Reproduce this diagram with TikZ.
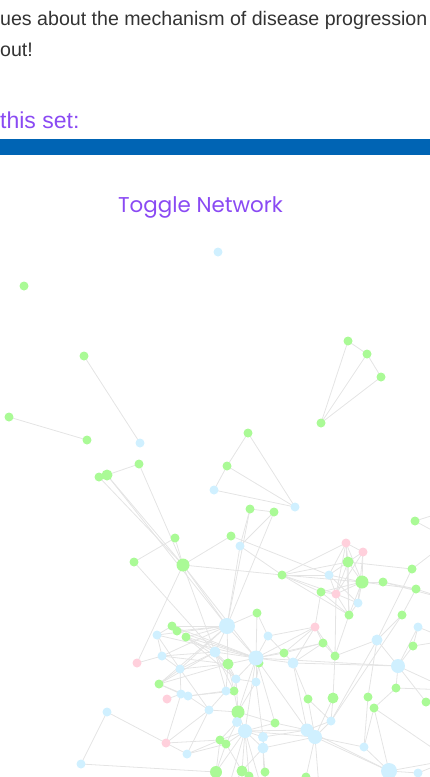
\documentclass[tikz,border=0pt]{standalone}
\usepackage{fontspec}
\setmainfont{Liberation Sans}
\newfontfamily\togglefont{Poppins}
\usepackage{xcolor}
\usepackage{tikz}
\usetikzlibrary{positioning}

\definecolor{textgray}{RGB}{51,51,51}
\definecolor{headpurple}{RGB}{138,74,243}
\definecolor{barblue}{RGB}{0,100,180}
\definecolor{nodegreen}{RGB}{170,250,150}
\definecolor{nodeblue}{RGB}{208,240,255}
\definecolor{nodepink}{RGB}{255,208,220}
\definecolor{edgegray}{RGB}{228,228,228}

% node lists: name/x/y/radius
\def\greennodes{g1/24/286/4.5, g2/84/356/4.5, g3/348/341/4.5, g4/367/354/4.5,
  g5/381/377/4.5, g6/321/423/4.5, g7/9/417/4.5, g8/87/440/4.5, g9/139/464/4.5,
  g10/107/475/5.5, g11/99/477/4.5, g12/248/433/4.5, g13/227/466/4.5,
  g14/250/509/4.5, g15/274/512/4.5, g16/415/521/4.5, g17/175/538/4.5,
  g18/231/536/4.5, g19/134/562/4.5, g20/183/565/6.5, g21/282/575/4.5,
  g22/348/562/5.5, g23/362/582/6.5, g24/383/582/4.5, g25/412/569/4.5,
  g26/416/589/4.5, g27/321/592/4.5, g28/349/615/4.5, g29/402/615/4.5,
  g30/257/613/4.5, g31/172/626/4.5, g32/177/631/4.5, g33/186/637/4.5,
  g34/413/646/4.5, g35/323/643/4.5, g36/284/653/4.5, g37/335/656/4.5,
  g38/259/663/4.5, g39/228/664/5.5, g40/159/684/4.5, g41/234/691/4.5,
  g42/396/688/4.5, g43/426/702/4.5, g44/308/699/4.5, g45/333/698/5.5,
  g46/368/697/4.5, g47/374/708/4.5, g48/238/712/6.5, g49/275/723/4.5,
  g50/220/740/4.5, g51/226/744/4.5, g52/216/772/6, g53/242/771/5.5,
  g54/249/776/4.5, g55/265/772/4.5, g56/306/777/4.5}
\def\bluenodes{b1/218/252/4.5, b2/140/443/4.5, b3/214/490/4.5, b4/295/507/4.5,
  b5/240/546/4.5, b6/329/575/4.5, b7/358/603/4.5, b8/227/626/8,
  b9/157/635/4.5, b10/268/636/4.5, b11/377/640/5.5, b12/418/627/4.5,
  b13/215/652/5.5, b14/162/656/4.5, b15/256/658/7.5, b16/293/663/5.5,
  b17/398/666/7, b18/180/669/4.5, b19/236/679/4.5, b20/256/682/4.5,
  b21/181/694/4.5, b22/188/696/4.5, b23/226/691/4.5, b24/209/710/4.5,
  b25/107/712/4.5, b26/237/722/5, b27/245/731/7, b28/331/721/4.5,
  b29/307/730/6.5, b30/315/737/7, b31/263/737/5, b32/263/748/5.5,
  b33/364/747/4.5, b34/187/754/4.5, b35/81/764/4.5, b36/389/771/8,
  b37/418/773/4.5}
\def\pinknodes{p1/346/543/4.5, p2/363/552/4.5, p3/336/594/4.5, p4/315/627/4.5,
  p5/137/663/4.5, p6/167/699/4.5, p7/166/743/4.5}

\begin{document}
\begin{tikzpicture}[x=1pt, y=-1pt, every node/.style={inner sep=0pt},
  edge/.style={edgegray, line width=0.8pt}]
\useasboundingbox (0,0) rectangle (430,777);
\clip (0,0) rectangle (430,777);
% page text above the network
\node[anchor=base west, font=\fontsize{19.6}{31}\selectfont, text=textgray] (introA) at (0,25) {ues about the mechanism of disease progression};
\node[anchor=base west, font=\fontsize{19.6}{31}\selectfont, text=textgray] (introB) at (0,56) {out!};
\node[anchor=base west, font=\fontsize{23}{26}\selectfont, text=headpurple] (heading) at (0,128) {this set:};
\fill[barblue] (0,139) rectangle (430,155);
\node[font=\togglefont\fontsize{21.4}{26}\selectfont, text=headpurple] (toggle) at (200.5,207.5) {Toggle Network};
% node positions
\foreach \n/\x/\y/\r in \greennodes {\coordinate (\n) at (\x,\y);}
\foreach \n/\x/\y/\r in \bluenodes {\coordinate (\n) at (\x,\y);}
\foreach \n/\x/\y/\r in \pinknodes {\coordinate (\n) at (\x,\y);}
% links leaving the visible area
\coordinate (R1) at (450,510);
\coordinate (R2) at (450,540);
\coordinate (R3) at (450,600);
\coordinate (R4) at (450,640);
\coordinate (R5) at (450,690);
\coordinate (R6) at (450,760);
\coordinate (D1) at (225,800);
\coordinate (D2) at (265,800);
\coordinate (D3) at (320,800);
\coordinate (D4) at (395,800);
% links
\foreach \a/\b in {g2/b2, g7/g8, g3/g4, g3/g6, g4/g5, g4/g6, g5/g6,
  g9/g10, g9/g20, g10/g20, g11/g20, g10/b8,
  g12/g13, g12/b4, g13/b3, g13/b4, b3/b4,
  g14/g15, g14/b8, g14/b5, g15/b5, g15/b8, b5/b8,
  g16/R1, g16/R2,
  g17/g19, g17/g20, g18/g20, g18/b6, b5/g21,
  g19/b13, g20/p5, g20/b8, g20/b13, g20/g21, g20/b15,
  g21/p1, g21/b6, g21/g23, g21/g27, g21/p3, g21/g22, g21/g28,
  p1/p2, p1/g22, p1/b6, p1/g23, p1/p3, p1/g28, p2/g22, p2/g23, p2/b7, p2/p3,
  g22/b6, g22/g23, g22/p3, g22/g28, g22/g25, b6/p3, b6/g23, b6/b7,
  g23/g24, g23/p3, g23/b7, g23/g28, g23/g26, g23/g27,
  g27/p3, g27/g28, p3/b7, p3/g28, b7/g28, g24/g26, g24/R3,
  g25/b11, g25/R2, g26/g29, g26/R3, g29/b11, g29/b28,
  b12/g34, b12/b17, b12/R4,
  b11/b17, b11/g46, b11/b28, b11/g37,
  g34/b17, g34/R4, b17/g42, b17/g43, b17/b16, b17/b15, b17/R5, g43/R5,
  g28/g37, p3/g37,
  p4/g36, p4/b10, p4/g35, p4/g37, p4/b16, p4/b15, p4/g27,
  b10/g30, b10/g36, b10/b15, g30/b8, g30/b15,
  g36/b15, g36/b16, g36/g35, g35/b15, g35/g37, g35/b16,
  b16/g44, b16/b15, b16/b29,
  g44/b28, g44/b30, g45/b28, g45/g37, g45/b30,
  g46/b33, g47/b33, g47/b36, g47/R6, g47/g42,
  b28/b29, b28/b30, b29/b36, b30/b36, b30/b33, b33/b36, b36/b37, b36/R6,
  b36/D4, b37/R6, g42/R5,
  b15/b29, b15/b27, b15/b8, b15/b13, b15/g39, b15/g38, b15/b20, b15/b19,
  b15/g48, b15/b9,
  b8/g31, b8/g32, b8/g33, b8/b9, b8/b13, b8/g39, b8/b18, b8/g40, b8/b14,
  g31/g32, g31/b9, g31/b15, g32/b15, g33/b13, g33/g39, g33/b15, g33/b19,
  b9/b14, b9/b18, b14/b13, b14/p5, b14/b18, b14/g39,
  b18/b13, b18/g40, b18/b21, b18/b24, b18/g39,
  g40/b13, g40/b21, g40/b22, g40/g39,
  p6/b21, p7/b21, b21/b22, b22/b24, b22/g41, b22/b23,
  b24/b34, b24/g48, b24/p7,
  p7/b25, p7/b34, p7/g50, b25/b35, b35/g52,
  b34/g50, b34/g51,
  b13/g39, b13/b23, b13/b19, b13/g41,
  g39/b23, g39/g41, g39/b19,
  b19/g48, b19/b20, b19/g41, b20/g38, b20/g48, b20/b31,
  b23/g41, b23/b24, g41/g48,
  g48/b26, g48/b27, g48/g49,
  b26/b27, b27/b31, b27/b32, b27/g50, b27/g51, b27/g52, b27/g53, b27/g54,
  b27/g49, b27/b29, b27/b30, b27/D1, b27/D2,
  b26/g50, b26/g51, g49/b29, g49/b15,
  b31/b32, b31/b29, b32/b30, b32/g55, b32/g53, b32/D2,
  g50/g51, g50/g52, g51/g52, g51/g53,
  g52/D1, g53/D1, g54/D2, g55/D2, g56/b30, g56/D3,
  b29/b30, b30/D3} {
  \draw[edge] (\a) -- (\b);
}
% nodes
\foreach \n/\x/\y/\r in \greennodes {\fill[nodegreen] (\n) circle (\r pt);}
\foreach \n/\x/\y/\r in \bluenodes {\fill[nodeblue] (\n) circle (\r pt);}
\foreach \n/\x/\y/\r in \pinknodes {\fill[nodepink] (\n) circle (\r pt);}
\end{tikzpicture}
\end{document}
